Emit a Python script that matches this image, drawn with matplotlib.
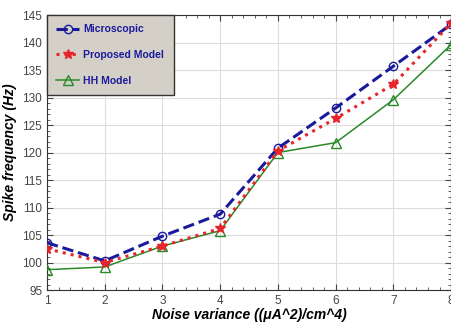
import matplotlib.pyplot as plt
from matplotlib.ticker import MultipleLocator

plt.rcParams['font.family'] = ['Liberation Sans', 'DejaVu Sans']

# noise variance values
noise = [1, 2, 3, 4, 5, 6, 7, 8]

# spike frequency for each model (Hz)
microscopic = [103.6, 100.3, 104.8, 108.8, 120.8, 128.1, 135.7, 143.3]
proposed = [102.5, 100.0, 103.0, 106.2, 120.3, 126.2, 132.4, 143.5]
hh_model = [98.7, 99.2, 103.0, 105.8, 120.0, 121.8, 129.6, 139.6]

fig = plt.figure(figsize=(4.52, 3.27), dpi=100)
ax = fig.add_axes([0.104, 0.113, 0.894, 0.841])

ax.plot(noise, microscopic, color='#1a1a9c', linestyle='--', linewidth=2.2,
        marker='o', markersize=6, markerfacecolor='none', markeredgecolor='#1a1a9c',
        label='Microscopic', zorder=4)
ax.plot(noise, proposed, color='#e8242b', linestyle=':', linewidth=2.2,
        marker='*', markersize=7, markerfacecolor='#e8242b', markeredgecolor='#e8242b',
        label='Proposed Model', zorder=5)
ax.plot(noise, hh_model, color='#2a8a2a', linestyle='-', linewidth=1.1,
        marker='^', markersize=7, markerfacecolor='none', markeredgecolor='#2a8a2a',
        label='HH Model', zorder=3)

ax.set_xlim(1, 8)
ax.set_ylim(95, 145)
ax.xaxis.set_major_locator(MultipleLocator(1))
ax.yaxis.set_major_locator(MultipleLocator(5))
ax.xaxis.set_minor_locator(MultipleLocator(0.2))
ax.yaxis.set_minor_locator(MultipleLocator(1))
ax.tick_params(which='both', direction='in', top=True, right=True, labelsize=8.5,
               colors='#444444')
ax.tick_params(which='major', length=4)
ax.tick_params(which='minor', length=2)
ax.grid(True, which='major', color='#dcdcdc', linewidth=0.8)
for s in ax.spines.values():
    s.set_color('#333333')

ax.set_xlabel('Noise variance ((\u03bcA^2)/cm^4)', fontsize=10, fontweight='bold',
              fontstyle='italic', labelpad=1)
ax.set_ylabel('Spike frequency (Hz)', fontsize=10, fontweight='bold',
              fontstyle='italic', labelpad=4)

leg = ax.legend(loc='upper left', fontsize=7.5, frameon=True, fancybox=False,
                borderaxespad=0, handlelength=2.2, handletextpad=0.4,
                labelspacing=1.5, borderpad=0.9)
leg.get_frame().set_facecolor('#d4d0c8')
leg.get_frame().set_edgecolor('#333333')
leg.get_frame().set_alpha(1)
for t in leg.get_texts():
    t.set_color('#1a1a9c')
    t.set_fontweight('bold')

fig.savefig('out.png', dpi=100)
